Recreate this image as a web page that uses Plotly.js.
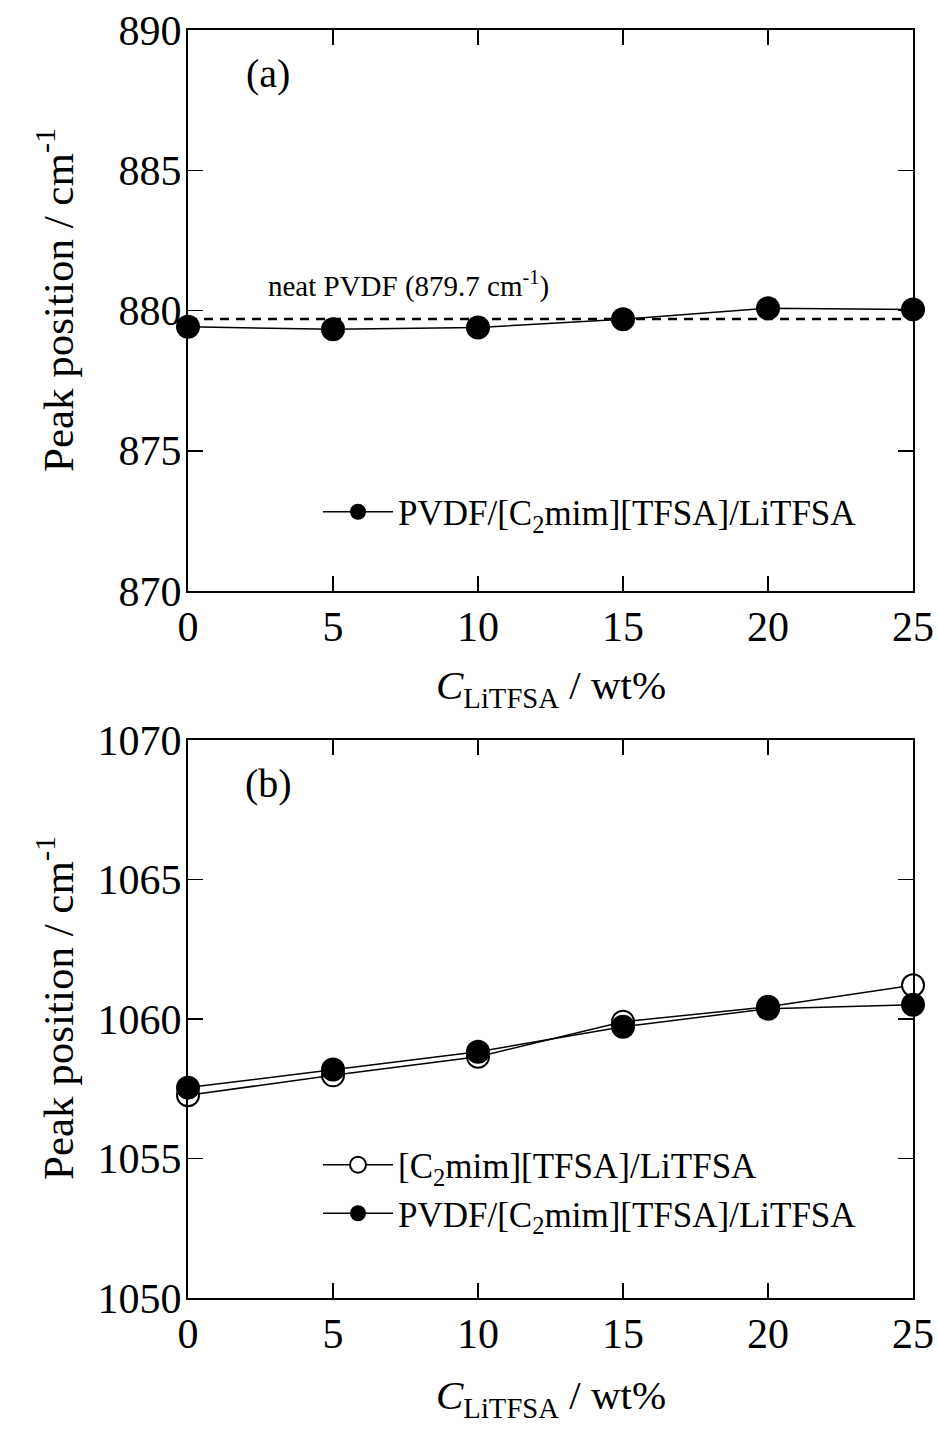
<!DOCTYPE html>
<html>
<head>
<meta charset="utf-8">
<script src="https://cdn.plot.ly/plotly-3.0.1.min.js"></script>
<style>html,body{margin:0;padding:0;background:#fff;}#chart{width:938px;height:1430px;}</style>
</head>
<body>
<div id="chart"></div>
<script>
// ---- data ----
const cLiTFSA = [0, 5, 10, 15, 20, 25];
const peakA_PVDF = [879.42, 879.33, 879.39, 879.69, 880.08, 880.04];
const neatPVDF = 879.7;
const peakB_IL = [1057.27, 1057.98, 1058.65, 1059.90, 1060.44, 1061.21];
const peakB_PVDF = [1057.54, 1058.19, 1058.83, 1059.72, 1060.37, 1060.51];
const nameIL = '[C<sub>2</sub>mim][TFSA]/LiTFSA';
const namePVDF = 'PVDF/[C<sub>2</sub>mim][TFSA]/LiTFSA';

const W = 938, H = 1430;
const px = v => v / W;
const py = v => 1 - v / H;
const FONT = 'Liberation Serif, Times New Roman, serif';

const xMin = cLiTFSA[0], xMax = cLiTFSA[cLiTFSA.length - 1];

const traces = [
  {x: [xMin, xMax], y: [neatPVDF, neatPVDF], xaxis: 'x', yaxis: 'y', mode: 'lines',
   line: {color: 'black', width: 2.5, dash: '9px,7px'}, showlegend: false, hoverinfo: 'skip'},
  {x: cLiTFSA, y: peakA_PVDF, xaxis: 'x', yaxis: 'y', mode: 'lines+markers', name: namePVDF,
   legend: 'legend', line: {color: 'black', width: 1.5},
   marker: {symbol: 'circle', size: 24, color: 'black'}, cliponaxis: false},
  {x: cLiTFSA, y: peakB_IL, xaxis: 'x2', yaxis: 'y2', mode: 'lines+markers', name: nameIL,
   legend: 'legend2', line: {color: 'black', width: 1.5},
   marker: {symbol: 'circle', size: 22, color: 'white', line: {color: 'black', width: 2}}, cliponaxis: false},
  {x: cLiTFSA, y: peakB_PVDF, xaxis: 'x2', yaxis: 'y2', mode: 'lines+markers', name: namePVDF,
   legend: 'legend2', line: {color: 'black', width: 1.5},
   marker: {symbol: 'circle', size: 24, color: 'black'}, cliponaxis: false}
];

const axisCommon = {
  ticks: 'inside', ticklen: 15, tickwidth: 1.5, tickcolor: 'black',
  showline: true, linewidth: 2, linecolor: 'black', mirror: 'ticks',
  showgrid: false, zeroline: false,
  tickfont: {family: FONT, size: 42, color: 'black'}
};

const layout = {
  width: W, height: H,
  margin: {l: 0, r: 0, t: 0, b: 0},
  paper_bgcolor: 'white', plot_bgcolor: 'white',
  showlegend: true,
  xaxis: Object.assign({}, axisCommon, {domain: [px(188), px(913)], range: [0, 25], dtick: 5, anchor: 'y', ticklabelstandoff: -2}),
  yaxis: Object.assign({}, axisCommon, {domain: [py(591), py(30)], range: [870, 890], dtick: 5, anchor: 'x', ticklabelstandoff: -4}),
  xaxis2: Object.assign({}, axisCommon, {domain: [px(188), px(913)], range: [0, 25], dtick: 5, anchor: 'y2', ticklabelstandoff: -2}),
  yaxis2: Object.assign({}, axisCommon, {domain: [py(1298), py(740)], range: [1050, 1070], dtick: 5, anchor: 'x2', ticklabelstandoff: -4}),
  legend: {x: px(318), y: py(512), xanchor: 'left', yanchor: 'middle', bgcolor: 'rgba(0,0,0,0)',
           font: {family: FONT, size: 35, color: 'black'}, itemwidth: 70},
  legend2: {x: px(318), y: py(1189), xanchor: 'left', yanchor: 'middle', bgcolor: 'rgba(0,0,0,0)',
           font: {family: FONT, size: 35, color: 'black'}, itemwidth: 70},
  annotations: [
    {xref: 'paper', yref: 'paper', x: px(268), y: py(74), xanchor: 'center', yanchor: 'middle', text: '(a)', showarrow: false,
     font: {family: FONT, size: 40, color: 'black'}},
    {xref: 'paper', yref: 'paper', x: px(268), y: py(783), xanchor: 'center', yanchor: 'middle', text: '(b)', showarrow: false,
     font: {family: FONT, size: 40, color: 'black'}},
    {xref: 'paper', yref: 'paper', x: px(266), y: py(284), xanchor: 'left', yanchor: 'middle', text: 'neat PVDF (879.7 cm<sup>-1</sup>)', showarrow: false,
     font: {family: FONT, size: 29, color: 'black'}},
    {xref: 'paper', yref: 'paper', x: px(551), y: py(688), xanchor: 'center', yanchor: 'middle', text: '<i>C</i><sub>LiTFSA</sub> / wt%', showarrow: false,
     font: {family: FONT, size: 41, color: 'black'}},
    {xref: 'paper', yref: 'paper', x: px(551), y: py(1398), xanchor: 'center', yanchor: 'middle', text: '<i>C</i><sub>LiTFSA</sub> / wt%', showarrow: false,
     font: {family: FONT, size: 41, color: 'black'}},
    {xref: 'paper', yref: 'paper', x: px(55), y: py(300), xanchor: 'center', yanchor: 'middle', text: 'Peak position / cm<sup>-1</sup>', showarrow: false, textangle: -90,
     font: {family: FONT, size: 43, color: 'black'}},
    {xref: 'paper', yref: 'paper', x: px(55), y: py(1008), xanchor: 'center', yanchor: 'middle', text: 'Peak position / cm<sup>-1</sup>', showarrow: false, textangle: -90,
     font: {family: FONT, size: 43, color: 'black'}}
  ]
};

Plotly.newPlot('chart', traces, layout, {displayModeBar: false, staticPlot: true});
</script>
</body>
</html>
